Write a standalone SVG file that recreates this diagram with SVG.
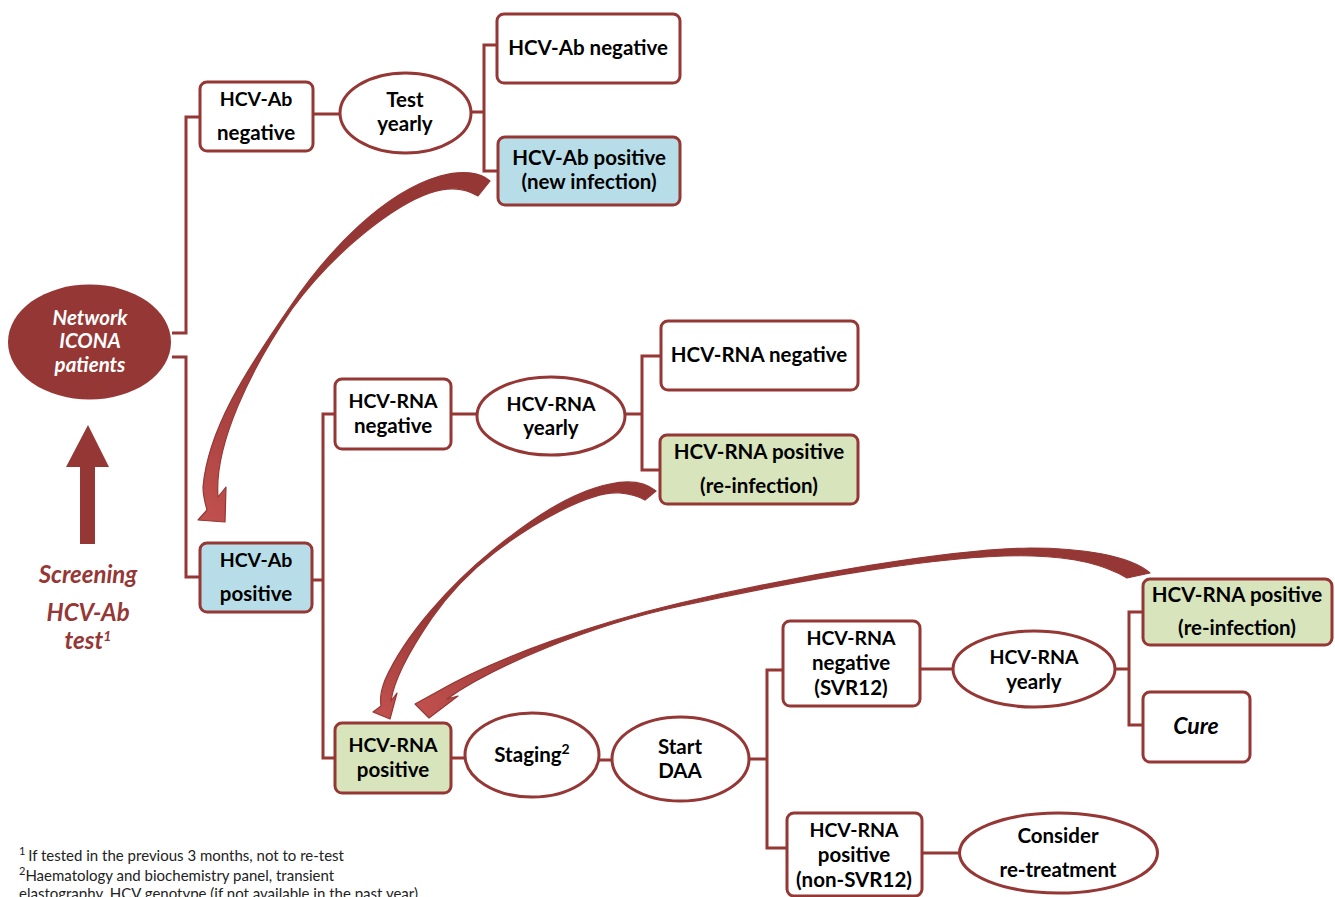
<svg xmlns="http://www.w3.org/2000/svg" width="1335" height="897" viewBox="0 0 1335 897">
<style>
text{font-family:"Lato","Carlito","Liberation Sans",sans-serif}
.b{fill:#fff;stroke:#953735;stroke-width:3}
.blue{fill:#B7DEE8}
.green{fill:#D7E4BC}
.c{fill:none;stroke:#953735;stroke-width:3}
.t{font-size:20.500px;font-weight:700;fill:#000;text-anchor:middle}
.n{font-size:19.500px}
.r{font-size:24px;font-weight:700;font-style:italic;fill:#953735;text-anchor:middle}
.w{font-size:20.500px;font-weight:700;font-style:italic;fill:#fff;text-anchor:middle}
.f{font-size:15px;fill:#222}
.s{font-size:11px;baseline-shift:super}
.sb{font-size:14px;baseline-shift:super}
.cv{stroke:#953735;stroke-width:1.200;stroke-linejoin:round}
</style>
<defs>
<linearGradient id="g1" gradientUnits="userSpaceOnUse" x1="480" y1="180" x2="210" y2="520"><stop offset="0.6" stop-color="#953735"/><stop offset="1" stop-color="#C0504D"/></linearGradient>
<linearGradient id="g2" gradientUnits="userSpaceOnUse" x1="650" y1="490" x2="385" y2="715"><stop offset="0.7" stop-color="#953735"/><stop offset="1" stop-color="#C0504D"/></linearGradient>
<linearGradient id="g3" gradientUnits="userSpaceOnUse" x1="1140" y1="570" x2="420" y2="710"><stop offset="0.8" stop-color="#953735"/><stop offset="1" stop-color="#C0504D"/></linearGradient>
</defs>
<g id="connectors">
<path class="c" d="M172,333H186V117H200M172,357H186V577H200"/>
<path class="c" d="M313,114H340M471,112H484M497,45H484V171H498"/>
<path class="c" d="M312,580H323M335,414H323V758H335"/>
<path class="c" d="M451,414H477M625,414H642M661,356H642V470H660"/>
<path class="c" d="M451,758H465M599,760H612M749,759H767M783,670H767V848H787"/>
<path class="c" d="M920,669H953M1115,669H1129M1143,612H1129V725H1143M922,853H959"/>
<path id="curve1" class="cv" fill="url(#g1)" d="M490,181C480,172 462,170 440,176C385,192 330,248 290,307C245,372 208,430 203,487C203,495 205,503 207,510L198,520L225,522L226,487L218,497C214,445 250,370 292,309C335,250 395,205 430,193C450,186 465,188 478,196Z"/>
<path id="curve2" class="cv" fill="url(#g2)" d="M656,491C645,482 628,480 610,484C570,492 530,520 493,550C450,585 405,635 385,680C381,690 380,700 381,706L373,712L390,719L397,693L391,701C394,680 410,650 432,618C450,592 472,570 494,553C530,525 590,490 620,493C630,494 638,496 645,500Z"/>
<path id="curve3" class="cv" fill="url(#g3)" d="M1150,573C1130,555 1080,548 1030,548C950,549 800,575 680,603C600,622 500,655 435,693L415,704L429,718L458,696L447,699C490,668 590,625 681,606C800,580 950,553 1033,556C1075,557 1105,565 1127,578Z"/>
</g>
<g id="network"><ellipse cx="89.500" cy="342" rx="81.500" ry="57.500" fill="#953735"/><text class="w" x="90" y="325">Network</text><text class="w" x="90" y="348">ICONA</text><text class="w" x="90" y="372">patients</text></g>
<g id="screening"><path d="M88,425L109,467H95V544H80V467H66Z" fill="#953735"/><text class="r" x="88" y="583">Screening</text><text class="r" x="88" y="621">HCV-Ab</text><text class="r" x="88" y="649">test<tspan class="sb">1</tspan></text></g>
<g id="ab-neg"><rect class="b" x="200" y="82" width="113" height="69" rx="7"/><text class="t n" x="256" y="106">HCV-Ab</text><text class="t" x="256" y="140">negative</text></g>
<g id="test-yearly"><ellipse class="b" cx="405.500" cy="113" rx="65.500" ry="40"/><text class="t" x="405" y="107">Test</text><text class="t" x="405" y="131">yearly</text></g>
<g id="ab-neg2"><rect class="b" x="497" y="14" width="183" height="69" rx="7"/><text class="t" x="588" y="55">HCV-Ab negative</text></g>
<g id="ab-pos-new"><rect class="b blue" x="498" y="137" width="182" height="68" rx="7"/><text class="t" x="589" y="165">HCV-Ab positive</text><text class="t" x="589" y="189">(new infection)</text></g>
<g id="ab-pos"><rect class="b blue" x="200" y="543" width="112" height="69" rx="7"/><text class="t n" x="256" y="567">HCV-Ab</text><text class="t" x="256" y="601">positive</text></g>
<g id="rna-neg"><rect class="b" x="335" y="379" width="116" height="70" rx="7"/><text class="t n" x="393" y="408">HCV-RNA</text><text class="t" x="393" y="433">negative</text></g>
<g id="rna-yearly"><ellipse class="b" cx="551" cy="416" rx="74" ry="39"/><text class="t n" x="551" y="411">HCV-RNA</text><text class="t" x="551" y="435">yearly</text></g>
<g id="rna-neg2"><rect class="b" x="661" y="321" width="197" height="69" rx="7"/><text class="t" x="759" y="362">HCV-RNA negative</text></g>
<g id="rna-pos-re"><rect class="b green" x="660" y="435" width="198" height="69" rx="7"/><text class="t" x="759" y="459">HCV-RNA positive</text><text class="t" x="759" y="493">(re-infection)</text></g>
<g id="rna-pos"><rect class="b green" x="335" y="723" width="116" height="70" rx="7"/><text class="t n" x="393" y="752">HCV-RNA</text><text class="t" x="393" y="777">positive</text></g>
<g id="staging"><ellipse class="b" cx="532" cy="755" rx="67" ry="42"/><text class="t" x="532" y="762">Staging<tspan class="sb">2</tspan></text></g>
<g id="start-daa"><ellipse class="b" cx="680.500" cy="759" rx="68.500" ry="42"/><text class="t" x="680" y="754">Start</text><text class="t" x="680" y="778">DAA</text></g>
<g id="svr"><rect class="b" x="783" y="621" width="137" height="85" rx="7"/><text class="t n" x="851" y="645">HCV-RNA</text><text class="t" x="851" y="670">negative</text><text class="t" x="851" y="695">(SVR12)</text></g>
<g id="rna-yearly2"><ellipse class="b" cx="1034" cy="669" rx="81" ry="38"/><text class="t n" x="1034" y="664">HCV-RNA</text><text class="t" x="1034" y="689">yearly</text></g>
<g id="rna-pos-re2"><rect class="b green" x="1143" y="579" width="189" height="66" rx="7"/><text class="t" x="1237" y="602">HCV-RNA positive</text><text class="t" x="1237" y="635">(re-infection)</text></g>
<g id="cure"><rect class="b" x="1143" y="692" width="107" height="70" rx="7"/><text class="t" x="1196" y="734" style="font-style:italic;font-size:23px">Cure</text></g>
<g id="non-svr"><rect class="b" x="787" y="813" width="135" height="83" rx="7"/><text class="t n" x="854" y="837">HCV-RNA</text><text class="t" x="854" y="862">positive</text><text class="t" x="854" y="887">(non-SVR12)</text></g>
<g id="retreat"><ellipse class="b" cx="1058.500" cy="853" rx="99" ry="40"/><text class="t" x="1058" y="843">Consider</text><text class="t" x="1058" y="877">re-treatment</text></g>
<g id="notes"><text class="f" x="19" y="861"><tspan class="s">1 </tspan>If tested in the previous 3 months, not to re-test</text><text class="f" x="19" y="881"><tspan class="s">2</tspan>Haematology and biochemistry panel, transient</text><text class="f" x="19" y="899">elastography, HCV genotype (if not available in the past year)</text></g>
</svg>
